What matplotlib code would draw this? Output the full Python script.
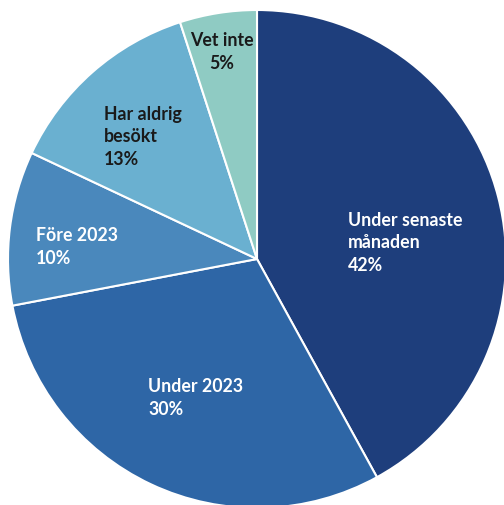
import matplotlib
matplotlib.use("Agg")
import matplotlib.pyplot as plt

labels = ["Under senaste\nmånaden", "Under 2023", "Före 2023", "Har aldrig\nbesökt", "Vet inte"]
values = [42, 30, 10, 13, 5]
colors = ["#1e3e7c", "#2e66a6", "#4a88bc", "#6ab0d0", "#8fcbc3"]
text_colors = ["white", "white", "white", "#1a1a1a", "#1a1a1a"]

# pie centre / radius in pixels, label anchors in pixels
cx, cy, r = 257, 260, 249
label_pos = [(348, 243, "left"), (148, 398, "left"), (36, 247, "left"),
             (104, 137, "left"), (222, 52, "center")]

fig = plt.figure(figsize=(5.04, 5.06), dpi=100)
ax = fig.add_axes([0, 0, 1, 1])
ax.pie(values, colors=colors, startangle=90, counterclock=False, radius=1,
       wedgeprops=dict(edgecolor="white", linewidth=1.5))
ax.set_xlim(-cx / r, (504 - cx) / r)
ax.set_ylim(-(506 - cy) / r, cy / r)
ax.set_aspect("auto")
ax.axis("off")

def px(x, y):
    return (x - cx) / r, (cy - y) / r

for lab, v, tc, (x, y, ha) in zip(labels, values, text_colors, label_pos):
    dx, dy = px(x, y)
    ax.text(dx, dy, f"{lab}\n{v}%", color=tc, ha=ha, va="center",
            multialignment=ha, fontsize=12.8, fontweight="bold",
            family="Lato", linespacing=1.4)

fig.savefig("out.png", dpi=100)
